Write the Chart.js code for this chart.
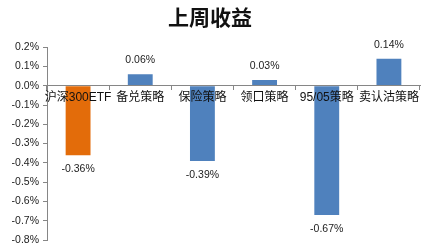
<!DOCTYPE html>
<html>
<head>
<meta charset="utf-8">
<script src="https://cdn.jsdelivr.net/npm/chart.js@4"></script>
<style>
  html, body { margin: 0; padding: 0; background: #fff; }
  #wrap { width: 431px; height: 252px; }
</style>
</head>
<body>
<div id="wrap"><canvas id="weekChart"></canvas></div>
<script>
const categories = ['沪深300ETF', '备兑策略', '保险策略', '领口策略', '95/05策略', '卖认沽策略'];
const returns = [-0.36, 0.06, -0.39, 0.03, -0.67, 0.14];
const barColors = ['#E36C0A', '#4F81BD', '#4F81BD', '#4F81BD', '#4F81BD', '#4F81BD'];
const yMin = -0.8, yMax = 0.2, yStep = 0.1;

const numFont = "'Liberation Sans', 'Noto Sans CJK SC', sans-serif";

// value labels above / below each bar
const valueLabels = {
    id: 'valueLabels',
    afterDatasetsDraw(chart) {
        const ctx = chart.ctx;
        const meta = chart.getDatasetMeta(0);
        ctx.save();
        ctx.font = '10.5px ' + numFont;
        ctx.fillStyle = '#222';
        ctx.textAlign = 'center';
        ctx.textBaseline = 'middle';
        meta.data.forEach((bar, i) => {
            const v = returns[i];
            const y = v >= 0 ? bar.y - 14 : bar.y + 14;
            ctx.fillText(v.toFixed(2) + '%', bar.x, y);
        });
        ctx.restore();
    }
};

new Chart(document.getElementById('weekChart'), {
    type: 'bar',
    data: {
        labels: categories,
        datasets: [{
            data: returns,
            backgroundColor: barColors,
            categoryPercentage: 1,
            barPercentage: 0.4
        }]
    },
    options: {
        responsive: true,
        maintainAspectRatio: false,
        animation: false,
        layout: { padding: { left: 0, right: 11, top: 0, bottom: 12 } },
        plugins: {
            legend: { display: false },
            tooltip: { enabled: false },
            title: {
                display: true,
                text: '上周收益',
                color: '#111',
                font: { family: "'Noto Sans CJK SC', sans-serif", size: 21, weight: 'bold' },
                padding: { top: 4, bottom: 18 }
            }
        },
        scales: {
            x: {
                position: { y: 0 },
                grid: { display: true, drawOnChartArea: false, offset: true, tickLength: 4, color: '#868686', z: 1 },
                border: { display: true, color: '#868686', z: 1 },
                ticks: {
                    z: 1,
                    color: '#111',
                    padding: 1,
                    maxRotation: 0,
                    autoSkip: false,
                    font: { family: numFont, size: 12 }
                }
            },
            y: {
                min: yMin,
                max: yMax,
                afterFit(scale) { scale.width = 47; },
                grid: { display: true, drawOnChartArea: false, tickLength: 4, color: '#868686' },
                border: { display: true, color: '#868686' },
                ticks: {
                    stepSize: yStep,
                    color: '#222',
                    padding: 4,
                    font: { family: numFont, size: 10.5 },
                    callback: v => v.toFixed(1) + '%'
                }
            }
        }
    },
    plugins: [valueLabels]
});
</script>
</body>
</html>
